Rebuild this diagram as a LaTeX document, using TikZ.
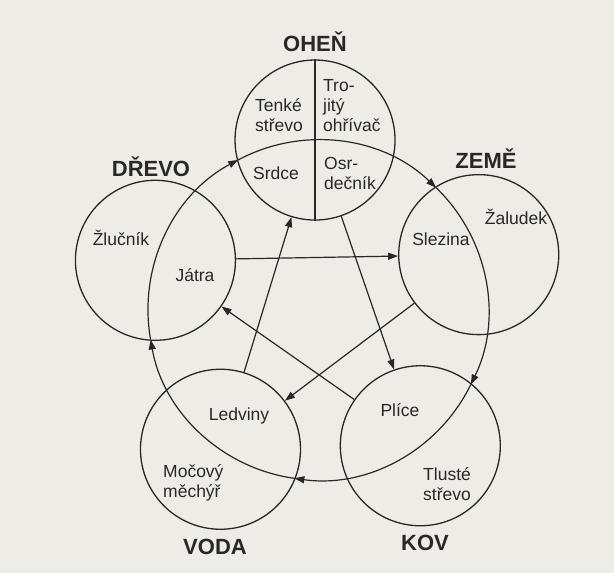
\documentclass[tikz,border=0pt]{standalone}
\usepackage{fontspec}
\setmainfont{Liberation Sans}
\usetikzlibrary{calc,arrows.meta}
\definecolor{paper}{RGB}{238,236,230}
\definecolor{ink}{RGB}{40,40,40}

\begin{document}
\begin{tikzpicture}[x=1pt,y=1pt,
	organ/.style={draw=ink,line width=1.3pt,circle,minimum size=160pt,inner sep=0pt},
	gen/.style={draw=ink,line width=1.2pt,-{Triangle[length=10pt,width=7pt]}},
	ctrl/.style={draw=ink,line width=1.2pt,-{Triangle[length=10pt,width=7pt]}},
	txt/.style={text=ink,font=\fontsize{17.5}{20}\selectfont,inner sep=0pt,align=left},
	elem/.style={text=ink,font=\fontsize{22}{24}\selectfont\bfseries,inner sep=0pt}]
	\fill[paper] (0,0) rectangle (614,573);
	\useasboundingbox (0,0) rectangle (614,573);
	\coordinate (O) at (318,263);
	\def\R{170}
	\node[organ] (fire) at ($(O)+(91:\R)$) {};
	\node[organ] (wood) at ($(O)+(163:\R)$) {};
	\node[organ] (earth) at ($(O)+(19:\R)$) {};
	\node[organ] (water) at ($(O)+(235:\R)$) {};
	\node[organ] (metal) at ($(O)+(307:\R)$) {};
	\draw[ink,line width=1.3pt] (fire.north) -- (fire.south);
	\coordinate (in-fire) at ($(O)+(118:\R)$);
	\coordinate (in-earth) at ($(O)+(46:\R)$);
	\coordinate (in-metal) at ($(O)+(334:\R)$);
	\coordinate (in-water) at ($(O)+(262:\R)$);
	\coordinate (in-wood) at ($(O)+(190:\R)$);
	\draw[gen] (in-fire) arc[start angle=118,end angle=46,radius=\R];
	\draw[gen] (in-earth) arc[start angle=46,end angle=-26,radius=\R];
	\draw[gen] (in-metal) arc[start angle=334,end angle=262,radius=\R];
	\draw[gen] (in-water) arc[start angle=262,end angle=190,radius=\R];
	\draw[gen] (in-wood) arc[start angle=190,end angle=118,radius=\R];
	\draw[ctrl] (fire) -- (metal);
	\draw[ctrl] (metal) -- (wood);
	\draw[ctrl] (wood) -- (earth);
	\draw[ctrl] (earth) -- (water);
	\draw[ctrl] (water) -- (fire);
	\node[elem] (fire-l) at (315,531) {OHEŇ};
	\node[elem] (wood-l) at (151,406) {DŘEVO};
	\node[elem] (earth-l) at (486,414) {ZEMĚ};
	\node[elem] (water-l) at (215,26) {VODA};
	\node[elem] (metal-l) at (425,30) {KOV};
	\node[txt,anchor=west] (si) at (255,458) {Tenké\\střevo};
	\node[txt,anchor=west] (tw) at (323,467) {Tro-\\jitý\\ohřívač};
	\node[txt] (ht) at (276,400) {Srdce};
	\node[txt,anchor=west] (pc) at (324,400) {Osr-\\dečník};
	\node[txt] (gb) at (121,335) {Žlučník};
	\node[txt] (lv) at (195,298) {Játra};
	\node[txt] (st) at (516,356) {Žaludek};
	\node[txt] (sp) at (441,334) {Slezina};
	\node[txt] (kd) at (239,157) {Ledviny};
	\node[txt,anchor=west] (bl) at (163,90) {Močový\\měchýř};
	\node[txt] (lu) at (400,163) {Plíce};
	\node[txt,anchor=west] (li) at (423,89) {Tlusté\\střevo};
\end{tikzpicture}
\end{document}
